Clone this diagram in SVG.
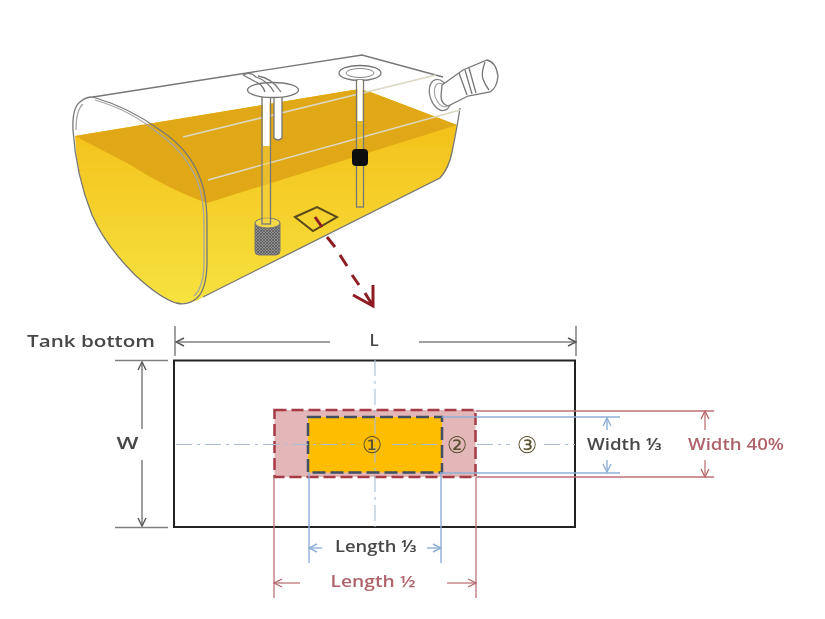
<svg xmlns="http://www.w3.org/2000/svg" width="825" height="619" viewBox="0 0 825 619">
<style>
text{font-family:"Open Sans","Noto Sans","DejaVu Sans",sans-serif;text-anchor:middle;font-weight:600}
.dk{fill:#474747}
.rd{fill:#ae646a}
.cn{font-family:"DejaVu Sans",sans-serif;font-size:23px;font-weight:400;fill:#5c5130}
.o{fill:none;stroke:#777;stroke-width:1.3}
.o2{fill:none;stroke:#a5a5a5;stroke-width:1.3}
.dim{fill:none;stroke:#808080;stroke-width:1.5}
.red{fill:none;stroke:#bd7378;stroke-width:1.3}
.blu{fill:none;stroke:#8fb0d8;stroke-width:1.4}
.ctr{fill:none;stroke:#a9bdd6;stroke-width:1.1;stroke-dasharray:16 5 3 5}
</style>
<defs>
<linearGradient id="fuel" x1="0" y1="0" x2="0" y2="1"><stop offset="0" stop-color="#f3bb14"/><stop offset="1" stop-color="#f6e23f"/></linearGradient>
<pattern id="mesh" width="3" height="3" patternUnits="userSpaceOnUse"><rect width="3" height="3" fill="#8f8f8f"/><path d="M0 0L3 3M3 0L0 3" stroke="#555" stroke-width=".7"/></pattern>
<filter id="soft" x="-5%" y="-5%" width="110%" height="110%"><feGaussianBlur stdDeviation=".55"/></filter>
<marker id="ak" markerWidth="10" markerHeight="10" refX="9" refY="5" orient="auto-start-reverse" markerUnits="userSpaceOnUse"><path d="M1 1L9 5L1 9" fill="none" stroke="#555" stroke-width="1.4"/></marker>
<marker id="ar" markerWidth="10" markerHeight="10" refX="9" refY="5" orient="auto-start-reverse" markerUnits="userSpaceOnUse"><path d="M1 1L9 5L1 9" fill="none" stroke="#b5666b" stroke-width="1.3"/></marker>
<marker id="ab" markerWidth="10" markerHeight="10" refX="9" refY="5" orient="auto-start-reverse" markerUnits="userSpaceOnUse"><path d="M1 1L9 5L1 9" fill="none" stroke="#8fb0d8" stroke-width="1.4"/></marker>
</defs>
<g id="tank" filter="url(#soft)">
<path d="M75 136L353 90Q362 89 373 93L457 125L452 152Q449 170 440 178L203 297Q195 304 176 303Q160 298 135 275Q105 245 92 215Q76 175 75 136Z" fill="url(#fuel)"/>
<path d="M75 136L353 90Q362 89 373 93L457 125L207 203Q170 190 127 163Z" fill="#e0a812"/>
<path d="M93 97L362 55L443 77" class="o"/>
<path d="M460 108Q457 128 452 152Q449 168 440 178L203 297" class="o"/>
<path d="M93 97Q130 108 160 130Q190 150 200 178Q207 195 207 225L207 265Q206 290 197 298Q188 306 176 303Q160 298 135 275Q105 245 92 215Q76 175 73 130Q72 108 80 102Q85 97 93 97Z" class="o"/>
<path d="M95 100Q130 110 158 133Q186 153 197 180Q204 197 204 225L204 265Q203 288 194 296" class="o2"/>
<path d="M76 130Q76 110 83 104" class="o2"/>
<path d="M183 137L436 75M208 180L460 110" fill="none" stroke="#dcd8c4" stroke-width="1.6"/>
</g>
<g id="filler" filter="url(#soft)">
<ellipse cx="440" cy="95" rx="10" ry="16" transform="rotate(-18 440 95)" fill="#fff" stroke="#808080" stroke-width="1.3"/>
<ellipse cx="442" cy="95" rx="7" ry="12" transform="rotate(-18 442 95)" fill="#fff" stroke="#999" stroke-width="1"/>
<path d="M442 85L463 70L487 60Q496 62 498 76Q497 88 490 92L468 96L448 106Q441 104 441 96Z" fill="#fff" stroke="#777" stroke-width="1.3"/>
<path d="M485 62Q481 73 483 79Q485 85 489 90" class="o"/>
<path d="M459 73L467 95M465 70L472 94M469 68L476 93" class="o"/>
</g>
<g id="pickup" filter="url(#soft)">
<path d="M274 96H282V138Q278 142 274 138Z" fill="#fff" stroke="#777" stroke-width="1.3"/>
<rect x="255" y="220" width="25" height="35" rx="4" fill="url(#mesh)" stroke="#777"/>
<ellipse cx="267.500" cy="223" rx="12.500" ry="5" fill="#f3d84a" stroke="#777" stroke-width="1"/>
<rect x="262" y="96" width="8.500" height="128" fill="#f3cf40" fill-opacity=".5" stroke="#777" stroke-width="1.3"/>
<rect x="263" y="96" width="6.500" height="50" fill="#fff"/>
<ellipse cx="273" cy="90" rx="25.500" ry="7.500" fill="#fff" stroke="#777" stroke-width="1.3"/>
<path d="M243 75Q250 71 256 77Q268 81 274 92M243 75Q252 80 260 84Q264 88 265 92M258 76Q272 78 281 92" class="o"/>
</g>
<g id="gauge" filter="url(#soft)">
<ellipse cx="360" cy="73" rx="21" ry="7.500" fill="#fff" stroke="#777" stroke-width="1.3"/>
<ellipse cx="360" cy="73" rx="14" ry="4.500" fill="#fff" stroke="#888" stroke-width="1"/>
<rect x="356.500" y="80" width="7" height="127" fill="#f3cf40" fill-opacity=".4" stroke="#777" stroke-width="1.3"/>
<rect x="357.500" y="80" width="5" height="41" fill="#fff"/>
<rect x="352" y="149" width="16" height="17" rx="4" fill="#0d0d0d"/>
</g>
<g id="patch" filter="url(#soft)">
<path d="M295 217L317 207L337 217L313 231Z" fill="none" stroke="#5a4a1c" stroke-width="2"/>
</g>
<g id="connector-detail" filter="url(#soft)" fill="none" stroke="#8e1f24" stroke-width="3">
<path d="M315 217L322 227M327 237L335 247M340 255L347 266M352 275L359 285"/>
<path d="M353 295L373 306L373 285M365 293L373 306"/>
</g>
<g id="bottom-plate" filter="url(#soft)">
<rect x="174" y="360.500" width="401" height="166.500" fill="#fff" stroke="#222" stroke-width="2"/>
</g>
<g id="zone-2" filter="url(#soft)">
<rect x="274.500" y="410" width="201" height="67" fill="#e3b6b7" stroke="#a73a44" stroke-width="2.500" stroke-dasharray="12 5"/>
</g>
<g id="zone-1" filter="url(#soft)">
<rect x="308" y="417" width="134" height="55.500" fill="#ffbd00" stroke="#3f4f63" stroke-width="2.500" stroke-dasharray="13 5"/>
</g>
<g id="connectors" filter="url(#soft)">
<path class="ctr" d="M375 360V527"/>
<path class="ctr" d="M176 444.500H355M392 444.500H442M477 444.500H510M544 444.500H575"/>
<path class="dim" d="M175 326V356M576 326V356M115 360.500H168M115 527.500H168"/>
<path class="dim" marker-start="url(#ak)" d="M176 342H330"/>
<path class="dim" marker-end="url(#ak)" d="M419 342H576"/>
<path class="dim" marker-start="url(#ak)" d="M142 362V429"/>
<path class="dim" marker-end="url(#ak)" d="M142 460V526"/>
<path class="red" d="M476 411H714M476 477H714M274 477V598M476 477V598"/>
<path class="blu" d="M442 417H620M442 473H620M309 472V563M441 472V563"/>
<path class="blu" marker-end="url(#ab)" d="M607 430V418"/>
<path class="blu" marker-end="url(#ab)" d="M607 460V472"/>
<path class="red" marker-end="url(#ar)" d="M705 430V411"/>
<path class="red" marker-end="url(#ar)" d="M705 460V477"/>
<path class="blu" marker-end="url(#ab)" d="M322 548H309"/>
<path class="blu" marker-end="url(#ab)" d="M427 548H441"/>
<path class="red" marker-end="url(#ar)" d="M300 583H274"/>
<path class="red" marker-end="url(#ar)" d="M447 583H476"/>
</g>
<g id="labels" filter="url(#soft)">
<text class="dk" x="91" y="347" font-size="17" textLength="128" lengthAdjust="spacingAndGlyphs">Tank bottom</text>
<text class="dk" x="374" y="346" font-size="17">L</text>
<text class="dk" x="127.500" y="449" font-size="17" textLength="22" lengthAdjust="spacingAndGlyphs">W</text>
<text class="cn" x="372" y="453">①</text>
<text class="cn" x="457" y="453">②</text>
<text class="cn" x="527" y="453">③</text>
<text class="dk" x="624.500" y="450" font-size="15.500" textLength="75" lengthAdjust="spacingAndGlyphs">Width ⅓</text>
<text class="rd" x="736" y="450" font-size="15.500" textLength="96" lengthAdjust="spacingAndGlyphs">Width 40%</text>
<text class="dk" x="376" y="552" font-size="15.500" textLength="82" lengthAdjust="spacingAndGlyphs">Length ⅓</text>
<text class="rd" x="373" y="587" font-size="15.500" textLength="85" lengthAdjust="spacingAndGlyphs">Length ½</text>
</g>
</svg>
